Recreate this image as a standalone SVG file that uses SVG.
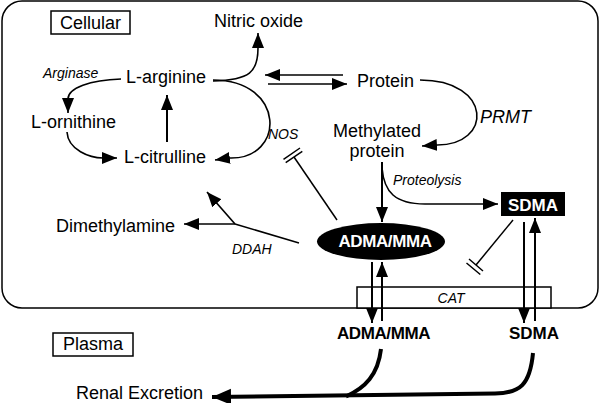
<svg xmlns="http://www.w3.org/2000/svg" width="600" height="403" viewBox="0 0 600 403">
<defs>
<marker id="ah" markerUnits="userSpaceOnUse" markerWidth="16" markerHeight="13" refX="15" refY="6" orient="auto"><path d="M0,0 L15,6 L0,12 z" fill="#000"/></marker>
<marker id="ahb" markerUnits="userSpaceOnUse" markerWidth="20" markerHeight="17" refX="19" refY="8" orient="auto"><path d="M0,0 L19,8 L0,16 z" fill="#000"/></marker>
<style>
text{font-family:"Liberation Sans",Arial,sans-serif;font-size:18px;fill:#000}
.it{font-style:italic;font-size:14px}
.b{font-weight:bold;font-size:17px}
.w{fill:#fff}
.l{fill:none;stroke:#000;stroke-width:1.5}
.a{fill:none;stroke:#000;stroke-width:1.6;marker-end:url(#ah)}
.a2{fill:none;stroke:#000;stroke-width:2;marker-end:url(#ah)}
.th{fill:none;stroke:#000;stroke-width:4}
.box{fill:#fff;stroke:#000;stroke-width:1.5}
</style>
</defs>
<rect width="600" height="403" fill="#fff"/>
<g id="cell"><rect x="2" y="1" width="596" height="307" rx="20" ry="20" fill="none" stroke="#000" stroke-width="1.5"/></g>
<g id="cellular-label"><rect class="box" x="51" y="11" width="79" height="23"/><text x="90.5" y="29" text-anchor="middle">Cellular</text></g>
<g id="plasma-label"><rect class="box" x="53" y="333" width="80" height="23"/><text x="93" y="350" text-anchor="middle">Plasma</text></g>
<g id="n-cat"><rect class="box" x="357" y="287" width="194" height="21"/><text class="it" x="451" y="303" text-anchor="middle">CAT</text></g>

<g id="connectors">
<path class="a" d="M213 81 C250 80 258 72 258 48 L258 33"/>
<path class="a" d="M121 79 C90 80 68 88 68 99 L68 113"/>
<path class="a" d="M67 132 C68 150 90 158 103 158 L117 158"/>
<path class="a2" d="M167 142 L167 95"/>
<path class="a" d="M213 80 C286 80 286 160 229 158 L215 160"/>
<path class="a" d="M343 75 L265 75"/>
<path class="a" d="M268 84 L347 84"/>
<path class="a" d="M420 80 C493 80 493 146 436 145 L422 146"/>
<path class="a2" d="M382 162 L382 222"/>
<path class="a" d="M382 168 C384 192 395 204 425 204 L498 204"/>
<path class="l" d="M337 220 L294 157"/>
<path class="l" d="M283.5 159.3 L300 148 M285.7 162.6 L302.3 151.4"/>
<path class="l" d="M513 220 L476 265"/>
<path class="l" d="M469 259 L483 271 M466.5 263 L480.3 274.5"/>
<path class="l" d="M299 243 L235 224"/>
<path class="a" d="M235 224 L184 224"/>
<path class="a" d="M235 224 L207 192"/>
<path class="a2" d="M372 262 L372 323"/>
<path class="a2" d="M382 321 L382 262"/>
<path class="a2" d="M524 222 L524 323"/>
<path class="a2" d="M535 321 L535 218"/>
<path class="th" d="M381 349 C378 375 365 388 346 396.5"/>
<path class="th" d="M533 353 C530 385 520 393 495 393.5 L212 397" marker-end="url(#ahb)"/>
</g>

<g id="n-no"><text x="214" y="27">Nitric oxide</text></g>
<g id="n-arginase"><text class="it" x="43" y="78">Arginase</text></g>
<g id="n-arginine"><text x="126" y="83">L-arginine</text></g>
<g id="n-ornithine"><text x="31" y="128">L-ornithine</text></g>
<g id="n-citrulline"><text x="124" y="163">L-citrulline</text></g>
<g id="n-protein"><text x="357" y="87">Protein</text></g>
<g id="n-prmt"><text x="480" y="123" style="font-style:italic">PRMT</text></g>
<g id="n-methyl"><text x="377" y="137" text-anchor="middle">Methylated</text><text x="377" y="157" text-anchor="middle">protein</text></g>
<g id="n-proteolysis"><text class="it" x="393" y="185">Proteolysis</text></g>
<g id="n-nos"><text class="it" x="268" y="139">NOS</text></g>
<g id="n-ddah"><text class="it" x="232" y="254">DDAH</text></g>
<g id="n-dma"><text x="56" y="232">Dimethylamine</text></g>
<g id="n-adma-cell"><ellipse cx="381" cy="241.5" rx="64" ry="18.5" fill="#000"/><text class="b w" x="385" y="247" text-anchor="middle" letter-spacing="-0.4">ADMA/MMA</text></g>
<g id="n-sdma-cell"><rect x="501" y="192" width="64" height="24" fill="#000"/><text class="b w" x="533" y="211" text-anchor="middle">SDMA</text></g>
<g id="n-adma-plasma"><text class="b" x="383.5" y="339" text-anchor="middle" letter-spacing="-0.4">ADMA/MMA</text></g>
<g id="n-sdma-plasma"><text class="b" x="534" y="339" text-anchor="middle">SDMA</text></g>
<g id="n-renal"><text x="76" y="399">Renal Excretion</text></g>
</svg>
